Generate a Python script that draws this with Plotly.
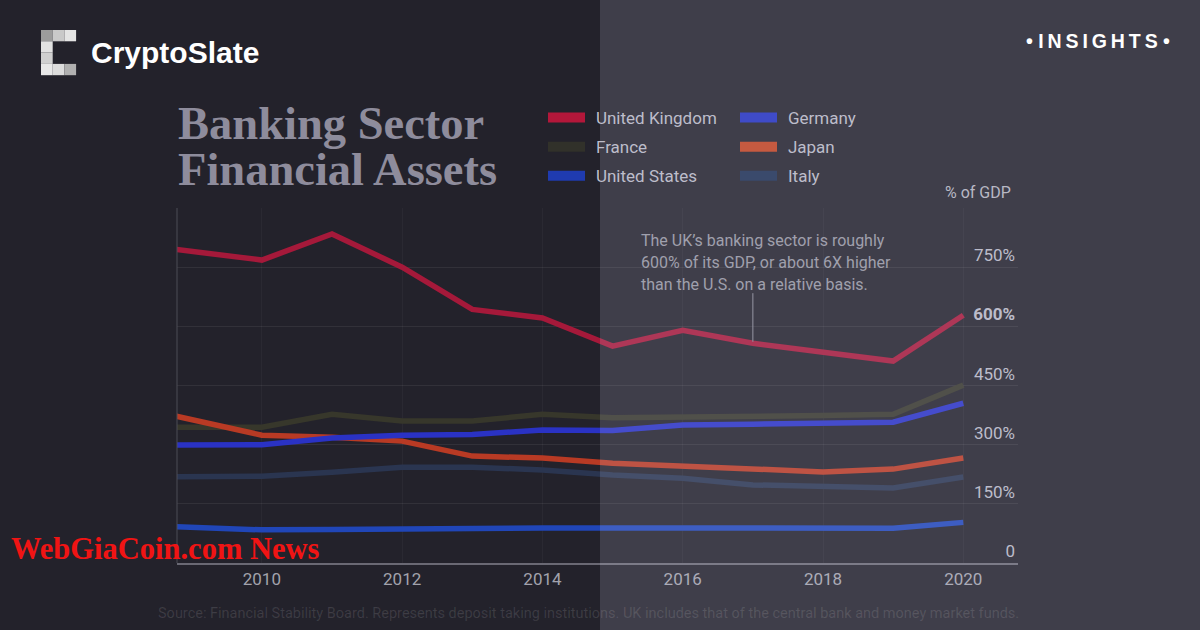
import plotly.graph_objects as go

# ---------------- data ----------------
years = list(range(2008, 2021))
uk      = [812, 790, 768, 834, 750, 643, 621, 550, 590, 557, 535, 512, 628]
france  = [344, 345, 344, 377, 360, 360, 377, 368, 369, 371, 374, 377, 451]
germany = [299, 299, 300, 317, 324, 326, 337, 336, 350, 352, 355, 357, 405]
japan   = [403, 364, 324, 319, 309, 271, 266, 253, 246, 236, 231, 238, 266]
italy   = [218, 218, 220, 230, 243, 243, 236, 223, 215, 198, 193, 190, 218]
us      = [97, 89, 84, 85, 87, 88, 89, 89, 89, 88, 88, 88, 103]

x_ticks = [2010, 2012, 2014, 2016, 2018, 2020]
y_ticks = [0, 150, 300, 450, 600, 750, 900]
y_ticktext = ["0", "150%", "300%", "450%", "<b>600%</b>", "750%", ""]

title_lines = ["Banking Sector", "Financial Assets"]
note_lines = ["The UK\u2019s banking sector is roughly",
              "600% of its GDP, or about 6X higher",
              "than the U.S. on a relative basis."]
source_text = ("Source: Financial Stability Board. Represents deposit taking institutions. "
               "UK includes that of the central bank and money market funds.")

# ---------------- layout helpers ----------------
W, H = 1200, 630
L, R, T, B = 177, 1018, 208, 563


def px(x):
    return (x - L) / (R - L)


def py(y):
    return (B - y) / (B - T)


series = [
    # name, values, plot colour, legend swatch colour, legend id
    ("Italy", italy, "#2a3550", "#3a4a6c", "legend2"),
    ("France", france, "#37372b", "#31312a", "legend"),
    ("United States", us, "#2046b8", "#1f3bb0", "legend"),
    ("Japan", japan, "#b83a24", "#c65a40", "legend2"),
    ("Germany", germany, "#2a32c4", "#3f4bc8", "legend2"),
    ("United Kingdom", uk, "#a5193a", "#b3173a", "legend"),
]

fig = go.Figure()
for name, vals, col, _, _ in series:
    fig.add_trace(go.Scatter(x=years, y=vals, mode="lines", name=name,
                             line=dict(color=col, width=5.5), showlegend=False,
                             hoverinfo="skip"))

legend_order = ["United Kingdom", "France", "United States", "Germany", "Japan", "Italy"]
lookup = {s[0]: s for s in series}
for name in legend_order:
    _, _, _, swatch, leg = lookup[name]
    fig.add_trace(go.Scatter(x=[None], y=[None], mode="lines", name="\u00a0\u200a" + name,
                             line=dict(color=swatch, width=12), legend=leg,
                             legendgroup=name, showlegend=True))

shapes = []
# left axis line
shapes.append(dict(type="line", xref="paper", yref="paper", x0=0, x1=0, y0=0, y1=1,
                   line=dict(color="#4d4c57", width=1), layer="above"))
# lighter overlay on right half
shapes.append(dict(type="rect", xref="paper", yref="paper",
                   x0=px(600), x1=px(1200), y0=py(630), y1=py(0),
                   fillcolor="rgba(230,230,255,0.15)", line=dict(width=0), layer="above"))
# annotation pointer
shapes.append(dict(type="line", xref="x", yref="y", x0=years[9], x1=years[9],
                   y0=uk[9] + 4, y1=uk[9] + 127,
                   line=dict(color="#9797a4", width=1), layer="above"))
# CryptoSlate logo (pixel C)
cells = [
    (0, 0, "#9c9c9c"), (1, 0, "#c9c9c9"), (2, 0, "#e4e4e4"),
    (0, 1, "#e2e2e2"),
    (0, 2, "#d0d0d0"),
    (0, 3, "#e8e8e8"), (1, 3, "#dcdcdc"), (2, 3, "#b0b0b0"),
]
cw, ch = 11.7, 11.3
for cx, cy, ccol in cells:
    x0 = 41 + cx * cw
    y0 = 30 + cy * ch
    shapes.append(dict(type="rect", xref="paper", yref="paper",
                       x0=px(x0), x1=px(x0 + cw), y0=py(y0 + ch), y1=py(y0),
                       fillcolor=ccol, line=dict(width=0), layer="above"))

annotations = []
annotations.append(dict(text="CryptoSlate", xref="paper", yref="paper", x=px(89), y=py(53),
                        xanchor="left", yanchor="middle", showarrow=False,
                        font=dict(family="Liberation Sans, Arial", size=30, color="#ffffff", weight="bold")))
sp = "\u2009"
annotations.append(dict(text="\u2022 " + sp.join("INSIGHTS") + " \u2022", xref="paper", yref="paper",
                        x=px(1172), y=py(41), xanchor="right", yanchor="middle", showarrow=False,
                        font=dict(family="Liberation Sans, Arial", size=19.5, color="#ffffff", weight="bold")))
for i, t in enumerate(title_lines):
    annotations.append(dict(text=t, xref="paper", yref="paper", x=px(176), y=py(123 + i * 47),
                            xanchor="left", yanchor="middle", showarrow=False,
                            font=dict(family="Liberation Serif, Times New Roman", size=46.5,
                                      color="#8e8c9c", weight="bold")))
for i, t in enumerate(note_lines):
    annotations.append(dict(text=t, xref="paper", yref="paper", x=px(639), y=py(240 + i * 22),
                            xanchor="left", yanchor="middle", showarrow=False,
                            font=dict(family="Roboto", size=16, color="#a0a0ad")))
annotations.append(dict(text="% of GDP", xref="paper", yref="paper", x=px(1013), y=py(192),
                        xanchor="right", yanchor="middle", showarrow=False,
                        font=dict(family="Roboto", size=16, color="#b8b8c4")))
annotations.append(dict(text=source_text, xref="paper", yref="paper", x=px(156), y=py(613),
                        xanchor="left", yanchor="middle", showarrow=False,
                        font=dict(family="Roboto", size=14.5, color="rgba(255,255,255,0.12)")))
annotations.append(dict(text="WebGiaCoin.com News", xref="paper", yref="paper", x=px(9), y=py(549),
                        xanchor="left", yanchor="middle", showarrow=False,
                        font=dict(family="Liberation Serif", size=30.5, color="#f01414", weight="bold")))

legend_common = dict(bgcolor="rgba(0,0,0,0)", borderwidth=0, tracegroupgap=4, itemwidth=37,
                     font=dict(family="Roboto", size=17, color="#bdbdca"),
                     xanchor="left", yanchor="top", orientation="v", itemclick=False)

fig.update_layout(
    width=W, height=H, autosize=False,
    margin=dict(l=L, r=W - R, t=T, b=H - B, pad=0),
    paper_bgcolor="#23222b", plot_bgcolor="rgba(0,0,0,0)",
    showlegend=True,
    legend=dict(x=px(543), y=py(100), **legend_common),
    legend2=dict(x=px(735), y=py(100), **legend_common),
    xaxis=dict(range=[2008.79, 2020.78], tickvals=x_ticks, showgrid=True,
               gridcolor="rgba(255,255,255,0.035)", gridwidth=1, zeroline=False,
               showline=True, linecolor="#6a6974", linewidth=1.5, ticks="",
               tickfont=dict(family="Roboto", size=17, color="#a2a2ac")),
    yaxis=dict(range=[0, 900], tickvals=y_ticks, ticktext=y_ticktext, side="right",
               ticklabelposition="inside top", showgrid=True,
               gridcolor="rgba(255,255,255,0.07)", gridwidth=1, zeroline=False,
               showline=False, ticks="",
               tickfont=dict(family="Roboto", size=17, color="#b6b6c2")),
    shapes=shapes,
    annotations=annotations,
    hovermode=False,
)

fig.write_html("out.html")
